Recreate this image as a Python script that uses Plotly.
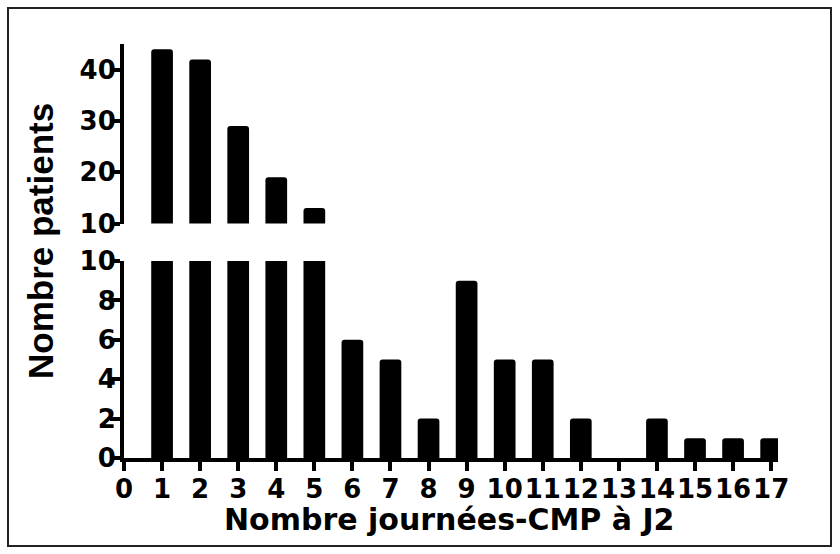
import plotly.graph_objects as go

# Patients per number of CMP days at J2
days = list(range(1, 18))
patients = [44, 42, 29, 19, 13, 6, 5, 2, 9, 5, 5, 2, 0, 2, 1, 1, 1]

x_ticks = list(range(0, 18))
low_ticks = [0, 2, 4, 6, 8, 10]
high_ticks = [10, 20, 30, 40]

W, H = 840, 554
L, R, T, B = 124, 62, 44, 96
PW, PH = W - L - R, H - T - B

WIDE_FONT = "DejaVu Sans, Verdana, sans-serif"
FONT = "Liberation Sans, Arial, Helvetica, sans-serif"

def px_x(p):
    return (p - L) / PW

def px_y(p):
    return (H - B - p) / PH

fig = go.Figure()

bar_style = dict(marker=dict(color="black", line=dict(width=0)), width=0.57,
                 hoverinfo="x+y", showlegend=False)

# lower segment of the broken axis (0-10)
fig.add_trace(go.Bar(x=days, y=patients, xaxis="x", yaxis="y", **bar_style))
# upper segment of the broken axis (10-45)
fig.add_trace(go.Bar(x=days, y=patients, xaxis="x", yaxis="y2", **bar_style))

axis_common = dict(showline=True, linecolor="black", linewidth=4,
                   ticks="outside", tickcolor="black", tickwidth=4,
                   showgrid=False, zeroline=False, tickangle=0,
                   tickfont=dict(family=WIDE_FONT, size=26, color="black", weight="bold"))

fig.update_layout(
    width=W, height=H,
    margin=dict(l=L, r=R, t=T, b=B, pad=0),
    paper_bgcolor="white", plot_bgcolor="white",
    barcornerradius=3,
    xaxis=dict(range=[0, 17.18], tickvals=x_ticks, ticktext=[str(v) for v in x_ticks],
               ticklen=9, ticklabelstandoff=-4, anchor="y", **axis_common),
    yaxis=dict(domain=[0, 0.4758], range=[0, 10], tickvals=low_ticks,
               ticklen=10, ticklabelstandoff=-11, anchor="x", **axis_common),
    yaxis2=dict(domain=[0.5664, 1], range=[10, 45], tickvals=high_ticks,
                ticklen=10, ticklabelstandoff=-11, anchor="x", **axis_common),
    annotations=[
        dict(text="Nombre journées-CMP à J2", xref="paper", yref="paper",
             x=px_x(449), y=px_y(519), xanchor="center", yanchor="middle",
             showarrow=False,
             font=dict(family=WIDE_FONT, size=30, color="black", weight="bold")),
        dict(text="Nombre patients", xref="paper", yref="paper",
             x=px_x(40), y=px_y(241), xanchor="center", yanchor="middle",
             textangle=-90, showarrow=False,
             font=dict(family=FONT, size=35, color="black", weight="bold")),
    ],
    shapes=[
        dict(type="rect", xref="paper", yref="paper",
             x0=px_x(8), x1=px_x(831), y0=px_y(546), y1=px_y(8),
             line=dict(color="#222222", width=2), fillcolor="rgba(0,0,0,0)",
             layer="above"),
    ],
)

fig.write_html("out.html")
